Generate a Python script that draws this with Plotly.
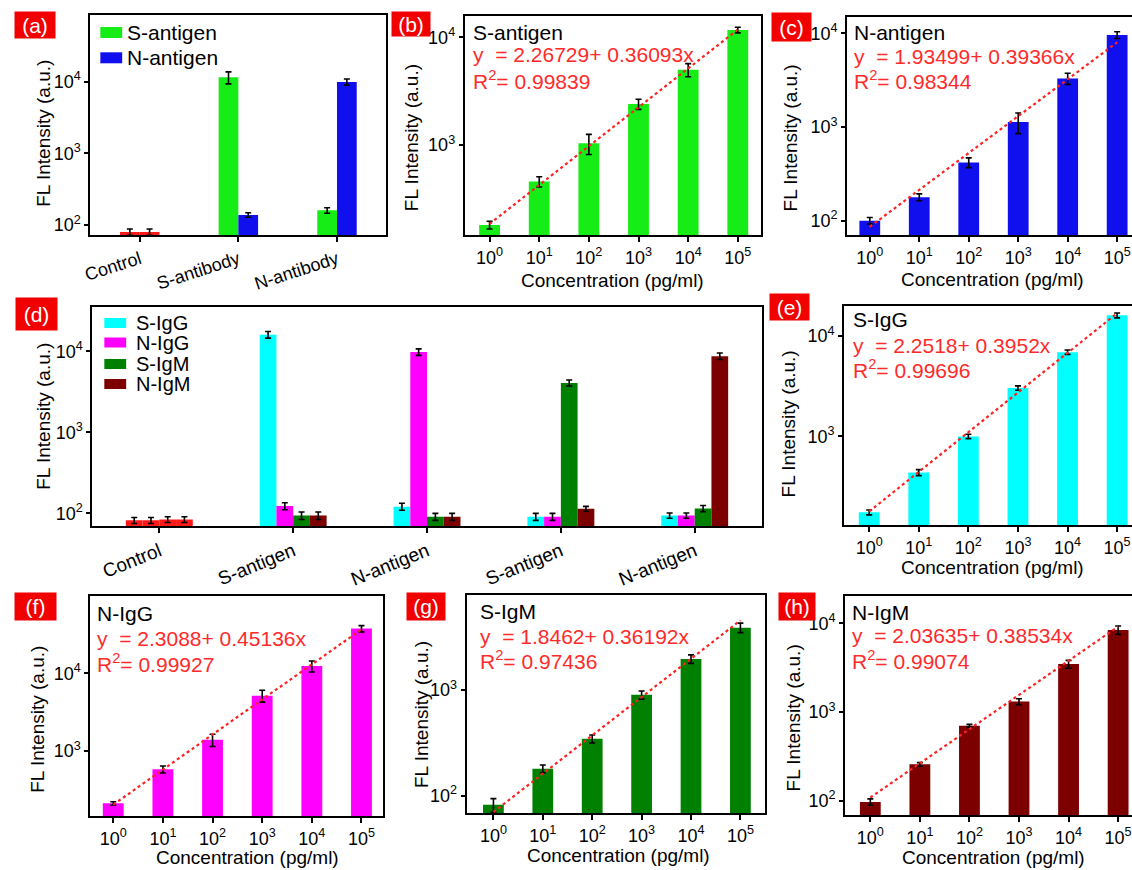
import plotly.graph_objects as go

W, H = 1132, 870
FONT = "Liberation Sans, Arial, sans-serif"

# ---------------- data ----------------
conc_labels = ['10<sup>0</sup>', '10<sup>1</sup>', '10<sup>2</sup>',
               '10<sup>3</sup>', '10<sup>4</sup>', '10<sup>5</sup>']

a_categories = ['Control', 'S-antibody', 'N-antibody']
a_s_antigen = [80, 11500, 160]
a_s_antigen_err = [8, 2200, 14]
a_n_antigen = [80, 138, 9900]
a_n_antigen_err = [8, 10, 1000]

b_values = [181, 457, 1036, 2400, 5000, 11700]
b_err = [15, 50, 220, 260, 700, 700]
b_intercept, b_slope, b_r2 = 2.26729, 0.36093, '0.99839'

c_values = [100, 178, 418, 1130, 3300, 9600]
c_err = [8, 15, 50, 280, 450, 800]
c_intercept, c_slope, c_r2 = 1.93499, 0.39366, '0.98344'

d_categories = ['Control', 'S-antigen', 'N-antigen', 'S-antigen', 'N-antigen']
d_s_igg = [82, 16000, 121, 91, 94]
d_s_igg_err = [7, 1500, 12, 9, 7]
d_n_igg = [82, 123, 9800, 91, 94]
d_n_igg_err = [7, 12, 900, 9, 7]
d_s_igm = [84, 94, 91, 4070, 115]
d_s_igm_err = [7, 10, 9, 350, 10]
d_n_igm = [84, 94, 91, 114, 8700]
d_n_igm_err = [7, 10, 9, 8, 800]

e_values = [175, 437, 1000, 3040, 6920, 16100]
e_err = [10, 30, 50, 150, 350, 900]
e_intercept, e_slope, e_r2 = 2.2518, 0.3952, '0.99696'

f_values = [212, 580, 1390, 5150, 12400, 37600]
f_err = [10, 60, 250, 900, 2000, 3500]
f_intercept, f_slope, f_r2 = 2.3088, 0.45136, '0.99927'

g_values = [82, 180, 345, 897, 1960, 3870]
g_err = [12, 15, 30, 80, 180, 400]
g_intercept, g_slope, g_r2 = 1.8462, 0.36192, '0.97436'

h_values = [97, 257, 701, 1310, 3470, 8410]
h_err = [8, 12, 25, 100, 350, 900]
h_intercept, h_slope, h_r2 = 2.03635, 0.38534, '0.99074'

# ---------------- styles ----------------
RED = '#ff1a1a'
GREEN = '#16ec16'
BLUE = '#1010ee'
CYAN = '#00ffff'
MAGENTA = '#ff00ff'
DGREEN = '#008000'
MAROON = '#7c0000'
LABEL_RED = '#f20000'
EQ_RED = '#ff2a2a'


def px(x):
    return x / W


def py(y):
    return 1 - y / H


# panel boxes in pixels: left, right, top, bottom
boxes = {
    'a': (83, 381, 15, 235),
    'b': (460, 758, 16, 235),
    'c': (845, 1132, 17, 235),
    'd': (85, 759, 307, 526),
    'e': (842, 1132, 306, 525),
    'f': (83, 378, 596, 816),
    'g': (462, 762, 595, 813),
    'h': (843, 1132, 596, 815),
}
xranges = {
    'a': [-0.5, 2.5], 'b': [-0.5, 5.46], 'c': [-0.46, 5.30], 'd': [-0.5, 4.5],
    'e': [-0.507, 5.30], 'f': [-0.46, 5.44], 'g': [-0.54, 5.49], 'h': [-0.51, 5.28],
}
yranges = {
    'a': [1.86, 4.93], 'b': [2.164, 4.198], 'c': [1.847, 4.174], 'd': [1.844, 4.546],
    'e': [2.117, 4.30], 'f': [2.163, 4.995], 'g': [1.837, 3.896], 'h': [1.839, 4.308],
}
ytickvals = {
    'a': [100, 1000, 10000], 'b': [1000, 10000], 'c': [100, 1000, 10000],
    'd': [100, 1000, 10000], 'e': [1000, 10000], 'f': [1000, 10000],
    'g': [100, 1000], 'h': [100, 1000, 10000],
}
power_text = {100: '10<sup>2</sup>', 1000: '10<sup>3</sup>', 10000: '10<sup>4</sup>'}
cut_right = {'c', 'e', 'h'}

order = ['a', 'b', 'c', 'd', 'e', 'f', 'g', 'h']
axid = {}
for i, p in enumerate(order, start=1):
    s = '' if i == 1 else str(i)
    axid[p] = ('x' + s, 'y' + s, 'xaxis' + s, 'yaxis' + s)

fig = go.Figure()


def err(arr):
    return dict(type='data', array=arr, color='black', thickness=1.6, width=3)


# ---- panel a ----
xa, ya, _, _ = axid['a']
a_idx = list(range(len(a_categories)))
fig.add_trace(go.Bar(x=a_idx, y=a_s_antigen, error_y=err(a_s_antigen_err),
                     marker=dict(color=[RED, GREEN, GREEN], line_width=0),
                     width=0.2, offset=-0.2, xaxis=xa, yaxis=ya, showlegend=False))
fig.add_trace(go.Bar(x=a_idx, y=a_n_antigen, error_y=err(a_n_antigen_err),
                     marker=dict(color=[RED, BLUE, BLUE], line_width=0),
                     width=0.2, offset=0.0, xaxis=xa, yaxis=ya, showlegend=False))

# ---- panel d ----
xd, yd, _, _ = axid['d']
d_idx = list(range(len(d_categories)))
d_series = [(d_s_igg, d_s_igg_err, CYAN), (d_n_igg, d_n_igg_err, MAGENTA),
            (d_s_igm, d_s_igm_err, DGREEN), (d_n_igm, d_n_igm_err, MAROON)]
for k, (vals, errs, col) in enumerate(d_series):
    fig.add_trace(go.Bar(x=d_idx, y=vals, error_y=err(errs),
                         marker=dict(color=[RED] + [col] * (len(vals) - 1), line_width=0),
                         width=0.125, offset=-0.25 + 0.125 * k,
                         xaxis=xd, yaxis=yd, showlegend=False))

# ---- concentration panels ----
conc_panels = {
    'b': (b_values, b_err, GREEN, b_intercept, b_slope, b_r2, 'S-antigen'),
    'c': (c_values, c_err, BLUE, c_intercept, c_slope, c_r2, 'N-antigen'),
    'e': (e_values, e_err, CYAN, e_intercept, e_slope, e_r2, 'S-IgG'),
    'f': (f_values, f_err, MAGENTA, f_intercept, f_slope, f_r2, 'N-IgG'),
    'g': (g_values, g_err, DGREEN, g_intercept, g_slope, g_r2, 'S-IgM'),
    'h': (h_values, h_err, MAROON, h_intercept, h_slope, h_r2, 'N-IgM'),
}
conc_idx = list(range(len(conc_labels)))
for p, (vals, errs, col, a0, a1, r2, name) in conc_panels.items():
    xx, yy, _, _ = axid[p]
    fig.add_trace(go.Bar(x=conc_idx, y=vals, error_y=err(errs),
                         marker=dict(color=col, line_width=0), width=0.42,
                         xaxis=xx, yaxis=yy, showlegend=False))
    fit_y = [10 ** (a0 + a1 * i) for i in conc_idx]
    fig.add_trace(go.Scatter(x=conc_idx, y=fit_y, mode='lines',
                             line=dict(color='#ff2020', dash='dot', width=2.2),
                             xaxis=xx, yaxis=yy, showlegend=False, hoverinfo='skip'))

# ---- axes ----
layout_axes = {}
for p in order:
    xx, yy, xk, yk = axid[p]
    L, R, T, B = boxes[p]
    if p == 'a':
        xt = dict(tickvals=a_idx, ticktext=a_categories, tickangle=-18,
                  tickfont=dict(size=18, color='black', family=FONT))
    elif p == 'd':
        xt = dict(tickvals=d_idx, ticktext=d_categories, tickangle=-22,
                  tickfont=dict(size=19, color='black', family=FONT))
    else:
        xt = dict(tickvals=conc_idx, ticktext=conc_labels, tickangle=0,
                  tickfont=dict(size=18, color='black', family=FONT))
    layout_axes[xk] = dict(domain=[px(L), px(R)], anchor=yy, range=xranges[p],
                           showgrid=False, zeroline=False, showline=True,
                           linecolor='black', linewidth=2, mirror=True,
                           ticks='outside', ticklen=5, tickwidth=1.5, tickcolor='black',
                           **xt)
    layout_axes[yk] = dict(domain=[py(B), py(T)], anchor=xx, type='log',
                           range=yranges[p], showgrid=False, zeroline=False,
                           showline=True, linecolor='black', linewidth=2,
                           mirror=(p not in cut_right),
                           ticks='outside', ticklen=4, tickwidth=1.5, tickcolor='black',
                           tickvals=ytickvals[p],
                           ticktext=[power_text[v] for v in ytickvals[p]],
                           tickfont=dict(size=18, color='black', family=FONT))

annotations = []
shapes = []

# panel labels (center x, center y, w, h)
labels = {
    'a': (27, 25, 40, 26), 'b': (406, 24, 38, 24), 'c': (789, 27, 39, 28),
    'd': (28.5, 314, 41, 32), 'e': (787.5, 307, 39, 26), 'f': (27.5, 606, 41, 27),
    'g': (421, 606.5, 38, 27), 'h': (795, 606.5, 36, 27),
}
for p, (cx, cy, w, h) in labels.items():
    annotations.append(dict(text='(%s)' % p, x=px(cx), y=py(cy), xref='paper', yref='paper',
                            xanchor='center', yanchor='middle', showarrow=False,
                            width=w, height=h, bgcolor=LABEL_RED, borderpad=0,
                            font=dict(size=21, color='white', family=FONT)))

# y-axis titles (center x, center y)
ytitles = {'a': (35, 133), 'b': (406, 138), 'c': (788, 138), 'd': (35, 416),
           'e': (787, 424), 'f': (29, 719), 'g': (416, 715), 'h': (791, 718)}
for p, (cx, cy) in ytitles.items():
    annotations.append(dict(text='FL Intensity (a.u.)', x=px(cx), y=py(cy), xref='paper',
                            yref='paper', xanchor='center', yanchor='middle',
                            textangle=-90, showarrow=False,
                            font=dict(size=19, color='black', family=FONT)))

# x-axis titles
xtitles = {'b': (609, 280), 'c': (992, 279), 'e': (992, 567), 'f': (241, 857),
           'g': (615, 855), 'h': (993, 857)}
for p, (cx, cy) in xtitles.items():
    annotations.append(dict(text='Concentration (pg/ml)', x=px(cx), y=py(cy), xref='paper',
                            yref='paper', xanchor='center', yanchor='middle',
                            showarrow=False, font=dict(size=19, color='black', family=FONT)))

# in-panel texts: left x, y of name, y of equation, y of R2
texts = {'b': (466, 32, 55, 80), 'c': (850, 32, 56, 80), 'e': (849, 319, 345, 369),
         'f': (88, 613, 638, 663), 'g': (473, 611, 636, 660), 'h': (848, 612, 635, 660)}
for p, (lx, y1, y2, y3) in texts.items():
    vals, errs, col, a0, a1, r2, name = conc_panels[p]
    annotations.append(dict(text=name, x=px(lx), y=py(y1), xref='paper', yref='paper',
                            xanchor='left', yanchor='middle', showarrow=False,
                            font=dict(size=21, color='black', family=FONT)))
    annotations.append(dict(text='y&nbsp; = %s+ %sx' % (a0, a1), x=px(lx), y=py(y2),
                            xref='paper', yref='paper', xanchor='left', yanchor='middle',
                            showarrow=False, font=dict(size=21, color=EQ_RED, family=FONT)))
    annotations.append(dict(text='R<sup>2</sup>= %s' % r2, x=px(lx), y=py(y3),
                            xref='paper', yref='paper', xanchor='left', yanchor='middle',
                            showarrow=False, font=dict(size=21, color=EQ_RED, family=FONT)))

# legends
a_legend = [('S-antigen', GREEN, 32.5), ('N-antigen', BLUE, 57.8)]
for name, col, cy in a_legend:
    shapes.append(dict(type='rect', xref='paper', yref='paper', x0=px(93), x1=px(115),
                       y0=py(cy - 5.5), y1=py(cy + 5.5), fillcolor=col, line_width=0))
    annotations.append(dict(text=name, x=px(118), y=py(cy), xref='paper', yref='paper',
                            xanchor='left', yanchor='middle', showarrow=False,
                            font=dict(size=21, color='black', family=FONT)))
d_legend = [('S-IgG', CYAN, 323), ('N-IgG', MAGENTA, 342.5), ('S-IgM', DGREEN, 364),
            ('N-IgM', MAROON, 384)]
for name, col, cy in d_legend:
    shapes.append(dict(type='rect', xref='paper', yref='paper', x0=px(97), x1=px(119),
                       y0=py(cy - 5), y1=py(cy + 5), fillcolor=col, line_width=0))
    annotations.append(dict(text=name, x=px(127), y=py(cy), xref='paper', yref='paper',
                            xanchor='left', yanchor='middle', showarrow=False,
                            font=dict(size=20, color='black', family=FONT)))

fig.update_layout(width=W, height=H, margin=dict(l=0, r=0, t=0, b=0),
                  paper_bgcolor='white', plot_bgcolor='white', barmode='overlay',
                  font=dict(family=FONT, color='black'),
                  annotations=annotations, shapes=shapes, showlegend=False,
                  **layout_axes)

fig.write_html("out.html", config={'displayModeBar': False},
               post_script="document.body.style.margin='0px';"
                           "document.body.style.overflow='hidden';")
